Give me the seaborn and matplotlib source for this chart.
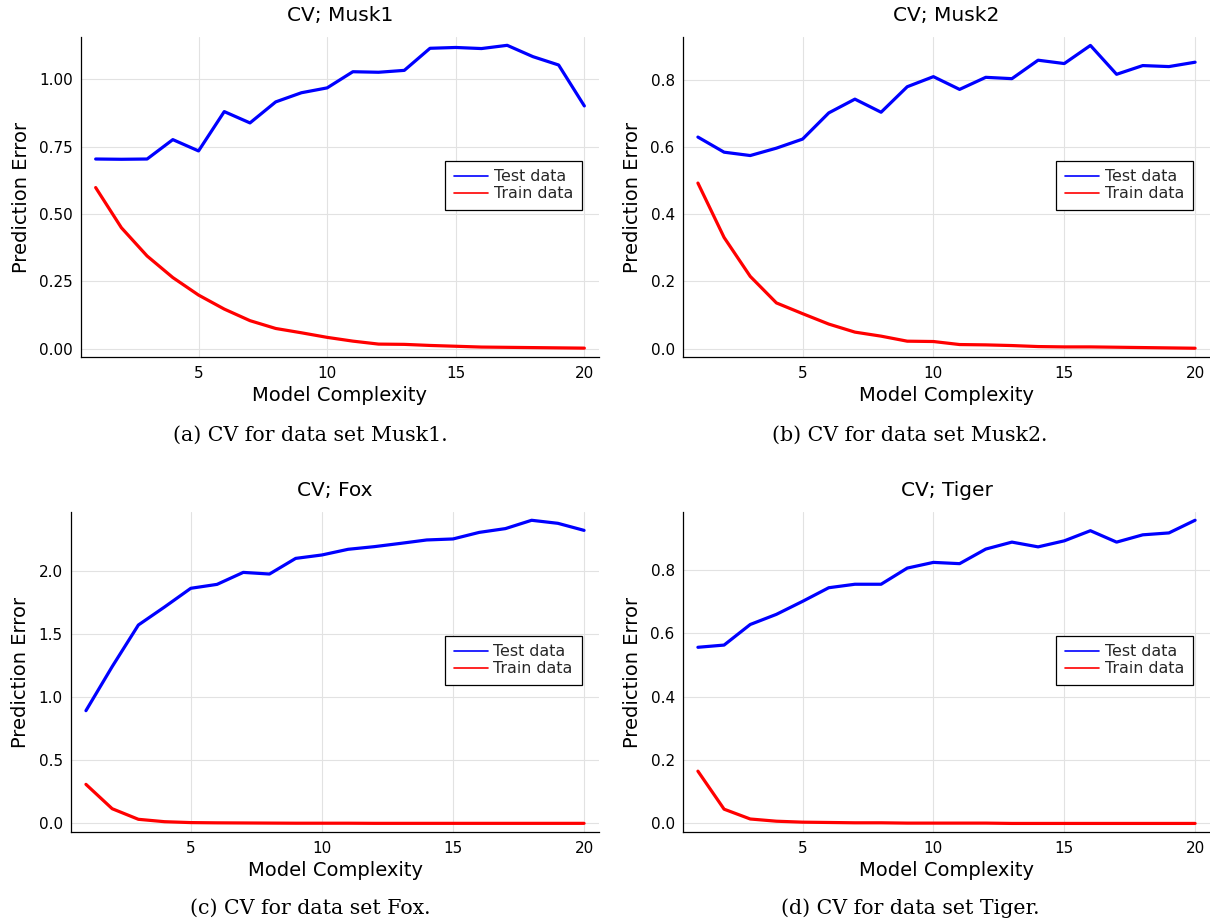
import numpy as np
import pandas as pd
import matplotlib
matplotlib.use("Agg")
import matplotlib.pyplot as plt
from matplotlib.ticker import FormatStrFormatter
import seaborn as sns

# Model complexity levels evaluated in cross-validation
complexity = list(range(1, 21))

# Musk1
musk1_test = [0.704, 0.703, 0.704, 0.776, 0.734, 0.880, 0.838, 0.916, 0.950, 0.968,
              1.028, 1.026, 1.033, 1.115, 1.118, 1.114, 1.126, 1.084, 1.053, 0.901]
musk1_train = [0.598, 0.449, 0.344, 0.264, 0.199, 0.147, 0.104, 0.075, 0.059, 0.042,
               0.028, 0.017, 0.016, 0.012, 0.009, 0.006, 0.005, 0.004, 0.003, 0.002]

# Musk2
musk2_test = [0.630, 0.585, 0.575, 0.597, 0.624, 0.702, 0.743, 0.704, 0.780, 0.810,
              0.772, 0.808, 0.804, 0.859, 0.849, 0.903, 0.817, 0.843, 0.840, 0.853]
musk2_train = [0.493, 0.331, 0.215, 0.136, 0.104, 0.073, 0.049, 0.037, 0.022, 0.021,
               0.012, 0.011, 0.009, 0.006, 0.005, 0.005, 0.004, 0.003, 0.002, 0.001]

# Fox
fox_test = [0.893, 1.242, 1.572, 1.715, 1.863, 1.894, 1.989, 1.976, 2.100, 2.127,
            2.172, 2.193, 2.219, 2.246, 2.254, 2.306, 2.336, 2.402, 2.378, 2.322]
fox_train = [0.309, 0.116, 0.032, 0.013, 0.006, 0.004, 0.003, 0.002, 0.001, 0.001,
             0.001, 0.0, 0.0, 0.0, 0.0, 0.0, 0.0, 0.0, 0.0, 0.0]

# Tiger
tiger_test = [0.556, 0.563, 0.628, 0.660, 0.701, 0.744, 0.755, 0.755, 0.806, 0.824,
              0.820, 0.866, 0.888, 0.873, 0.892, 0.924, 0.888, 0.911, 0.917, 0.957]
tiger_train = [0.165, 0.045, 0.014, 0.007, 0.004, 0.003, 0.002, 0.002, 0.001, 0.001,
               0.001, 0.001, 0.0, 0.0, 0.0, 0.0, 0.0, 0.0, 0.0, 0.0]

datasets = ["Musk1", "Musk2", "Fox", "Tiger"]
captions = ["(a) CV for data set Musk1.", "(b) CV for data set Musk2.",
            "(c) CV for data set Fox.", "(d) CV for data set Tiger."]
series = {
    "Musk1": (musk1_test, musk1_train),
    "Musk2": (musk2_test, musk2_train),
    "Fox": (fox_test, fox_train),
    "Tiger": (tiger_test, tiger_train),
}

yticks = {
    "Musk1": [0.0, 0.25, 0.5, 0.75, 1.0],
    "Musk2": [0.0, 0.2, 0.4, 0.6, 0.8],
    "Fox": [0.0, 0.5, 1.0, 1.5, 2.0],
    "Tiger": [0.0, 0.2, 0.4, 0.6, 0.8],
}
yfmt = {"Musk1": "%.2f", "Musk2": "%.1f", "Fox": "%.1f", "Tiger": "%.1f"}
ylims = {
    "Musk1": (-0.032, 1.158),
    "Musk2": (-0.026, 0.929),
    "Fox": (-0.071, 2.470),
    "Tiger": (-0.028, 0.984),
}

sns.set_theme(style="white")
plt.rcParams["font.family"] = ["DejaVu Sans"]

W, H = 1210, 923
fig = plt.figure(figsize=(W / 100, H / 100), dpi=100)

# axes boxes in pixels: left, right, top, bottom
boxes = {
    "Musk1": (81, 599, 36.7, 357.3),
    "Musk2": (683, 1210, 36.7, 357.3),
    "Fox": (71, 599, 511.7, 832.3),
    "Tiger": (683, 1210, 511.7, 832.3),
}
caption_pos = {"Musk1": (310, 435), "Musk2": (910, 435),
               "Fox": (310, 908), "Tiger": (910, 908)}

palette = {"Test data": "#0000ff", "Train data": "#ff0000"}

for name, cap in zip(datasets, captions):
    l, r, t, b = boxes[name]
    ax = fig.add_axes([l / W, 1 - b / H, (r - l) / W, (b - t) / H])
    test, train = series[name]
    df = pd.DataFrame({
        "Model Complexity": complexity * 2,
        "Prediction Error": test + train,
        "Series": ["Test data"] * len(complexity) + ["Train data"] * len(complexity),
    })
    sns.lineplot(data=df, x="Model Complexity", y="Prediction Error", hue="Series",
                 palette=palette, linewidth=2.3, ax=ax)

    ax.set_xlim(0.43, 20.57)
    ax.set_ylim(*ylims[name])
    ax.set_xticks([5, 10, 15, 20])
    ax.set_yticks(yticks[name])
    ax.yaxis.set_major_formatter(FormatStrFormatter(yfmt[name]))
    ax.grid(True, color="#e2e2e2", linewidth=0.8)
    ax.set_axisbelow(True)
    for side in ["top", "right"]:
        ax.spines[side].set_visible(False)
    for side in ["left", "bottom"]:
        ax.spines[side].set_color("black")
        ax.spines[side].set_linewidth(0.9)
    ax.tick_params(axis="both", direction="in", length=4, width=0.8, color="black",
                   labelsize=11, pad=6, labelcolor="black")
    ax.set_title(f"CV; {name}", fontsize=14.5, color="black", pad=11)
    ax.set_xlabel("Model Complexity", fontsize=14, color="black", labelpad=4)
    ax.set_ylabel("Prediction Error", fontsize=14, color="black", labelpad=6)

    leg = ax.legend(loc="upper right", bbox_to_anchor=(0.967, 0.613), borderaxespad=0,
                    fontsize=11.4, frameon=True, fancybox=False, framealpha=1,
                    edgecolor="black", handlelength=2.15, handletextpad=0.36,
                    labelspacing=0.1, borderpad=0.55, title=None)
    leg.get_frame().set_linewidth(0.9)
    for line in leg.get_lines():
        line.set_linewidth(1.2)

    cx, cy = caption_pos[name]
    fig.text(cx / W, 1 - cy / H, cap, ha="center", va="center",
             fontsize=14.8, family="DejaVu Serif", color="black")

fig.savefig("out.png", dpi=100)
